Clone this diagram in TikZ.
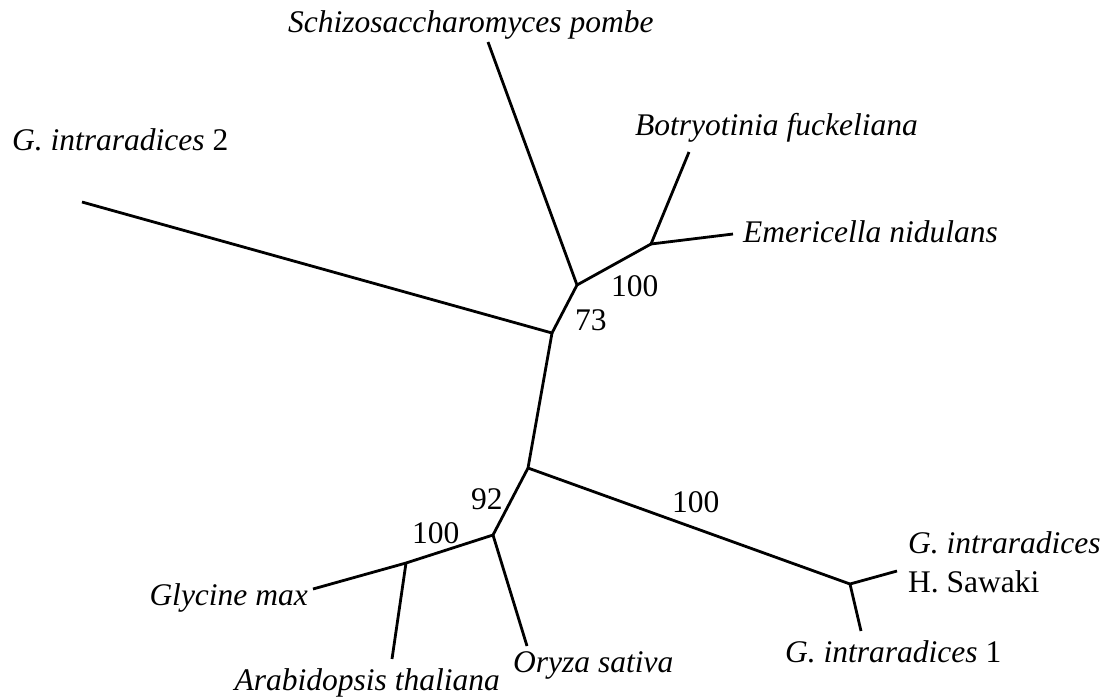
\documentclass[tikz,border=0pt]{standalone}
\usepackage{fontspec}
\setmainfont{Liberation Serif}
\begin{document}
\begin{tikzpicture}[x=1pt,y=-1pt,
  branch/.style={line width=2.8pt, line join=round},
  lab/.style={font=\fontsize{31.5}{36}\selectfont\itshape, inner sep=0pt},
  num/.style={font=\fontsize{31.5}{36}\selectfont, inner sep=0pt, anchor=base west}]
\useasboundingbox (0,0) rectangle (1108,697);
% leaves
\coordinate (gi2) at (82,202);
\coordinate (sp) at (488,42);
\coordinate (bf) at (689,152);
\coordinate (en) at (733,234);
\coordinate (gm) at (313,589);
\coordinate (at) at (392,659);
\coordinate (os) at (527,646);
\coordinate (hs) at (897,571);
\coordinate (gi1) at (861,631);
% internal nodes
\coordinate (A) at (552,333);
\coordinate (B) at (577,285);
\coordinate (C) at (651,244);
\coordinate (D) at (528,468);
\coordinate (E) at (493,535);
\coordinate (F) at (406,563);
\coordinate (G) at (850,584);
% branches
\draw[branch] (gi2) -- (A) -- (B) -- (sp);
\draw[branch] (B) -- (C) -- (bf);
\draw[branch] (C) -- (en);
\draw[branch] (A) -- (D) -- (E) -- (F) -- (gm);
\draw[branch] (F) -- (at);
\draw[branch] (E) -- (os);
\draw[branch] (D) -- (G) -- (hs);
\draw[branch] (G) -- (gi1);
% taxon labels
\node[lab, anchor=base west] (lsp) at (288,32) {Schizosaccharomyces pombe};
\node[lab, anchor=base west] (lbf) at (635,135) {Botryotinia fuckeliana};
\node[lab, anchor=base west] (len) at (743,242) {Emericella nidulans};
\node[lab, anchor=base west] (lgi2) at (12,150) {G. intraradices \upshape 2};
\node[lab, anchor=base east] (lgm) at (308,605) {Glycine max};
\node[lab, anchor=base east] (lat) at (500,690) {Arabidopsis thaliana};
\node[lab, anchor=base west] (los) at (513,672) {Oryza sativa};
\node[lab, anchor=base west] (lhs1) at (908,553) {G. intraradices};
\node[lab, anchor=base west] (lhs2) at (908,592) {\upshape H. Sawaki};
\node[lab, anchor=base west] (lgi1) at (785,662) {G. intraradices \upshape 1};
% support values
\node[num] (nC) at (611,296) {100};
\node[num] (nA) at (575,330) {73};
\node[num] (nE) at (471,509) {92};
\node[num] (nF) at (412,543) {100};
\node[num] (nG) at (672,512) {100};
\end{tikzpicture}
\end{document}
